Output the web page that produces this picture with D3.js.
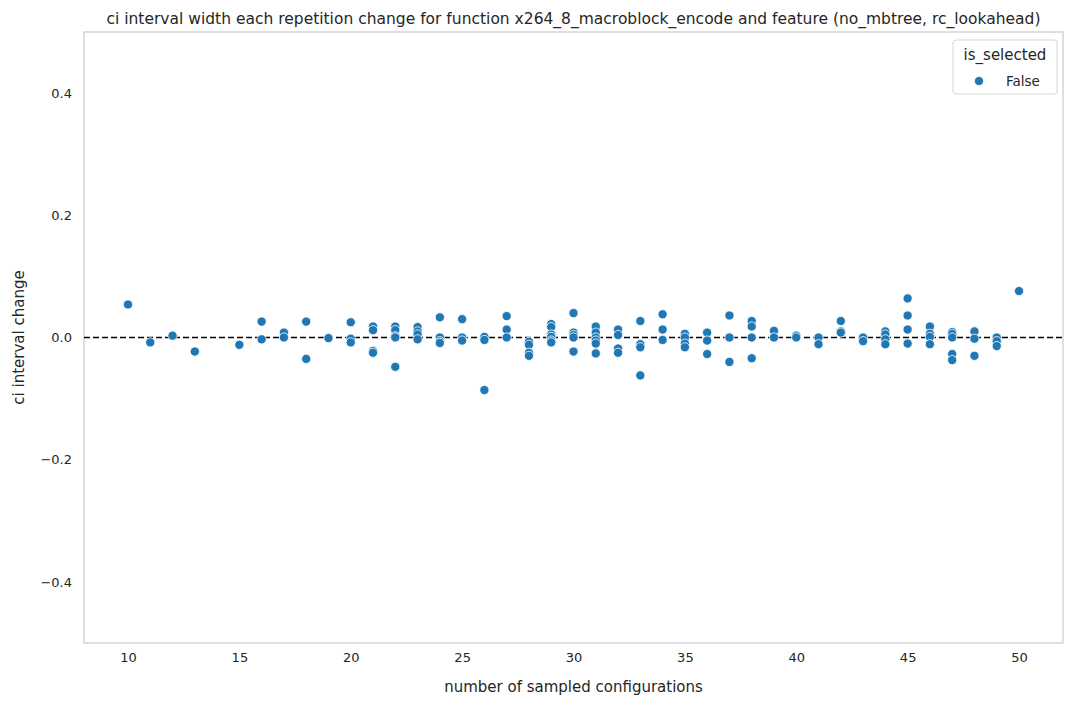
<!DOCTYPE html>
<html><head><meta charset="utf-8">
<script src="https://cdn.jsdelivr.net/npm/d3@7"></script>
<style>body{margin:0;background:#fff;font-family:"DejaVu Sans",sans-serif;}</style>
</head><body>
<script>
// sampled configuration counts and ci interval changes
var configs = [10,11,12,13,15,16,16,17,17,18,18,19,20,20,20,
  21,21,21,21,22,22,22,22,22,23,23,23,23,24,24,24,24,25,25,25,
  26,26,26,27,27,27,28,28,28,28,29,29,29,29,29,29,30,30,30,30,30,
  31,31,31,31,31,31,32,32,32,32,33,33,33,33,34,34,34,35,35,35,35,
  36,36,36,37,37,37,38,38,38,38,39,39,40,40,41,41,42,42,42,43,43,
  44,44,44,44,45,45,45,45,46,46,46,46,47,47,47,47,47,48,48,48,49,49,49,50];
var changes = [0.054,-0.008,0.003,-0.023,-0.012,0.026,-0.003,0.008,0.0,0.026,-0.035,-0.001,0.025,-0.002,-0.008,
  0.018,0.012,-0.022,-0.025,0.018,0.012,0.002,0.0,-0.048,0.017,0.01,0.005,-0.003,0.033,0.0,-0.006,-0.009,0.03,0.0,-0.005,
  0.001,-0.004,-0.086,0.035,0.013,0.0,-0.007,-0.012,-0.025,-0.03,0.022,0.017,0.005,0.001,-0.005,-0.008,0.04,0.008,0.004,0.0,-0.023,
  0.018,0.008,0.0,-0.005,-0.01,-0.026,0.013,0.004,-0.018,-0.025,0.027,-0.011,-0.016,-0.062,0.038,0.013,-0.004,0.006,0.0,-0.01,-0.016,
  0.008,-0.005,-0.027,0.036,0.0,-0.04,0.027,0.018,0.0,-0.034,0.011,0.0,0.003,0.0,0.0,-0.011,0.027,0.01,0.008,0.0,-0.006,
  0.01,0.005,-0.003,-0.011,0.064,0.036,0.013,-0.01,0.018,0.006,0.001,-0.011,0.009,0.006,0.0,-0.027,-0.037,0.01,-0.002,-0.03,0.0,-0.006,-0.014,0.076];
var xTicks = [10,15,20,25,30,35,40,45,50];
var yTicks = [-0.4,-0.2,0.0,0.2,0.4];

var W = 1084, H = 706, m = {l:84, r:21, t:32, b:63};
var svg = d3.select("body").append("svg").attr("width", W).attr("height", H);
var x = d3.scaleLinear().domain([8.025, 51.975]).range([m.l, W - m.r]);
var y = d3.scaleLinear().domain([-0.5, 0.5]).range([H - m.b, m.t]);

function fmt(v){ var s = d3.format(".1f")(Math.abs(v)); return v < 0 ? "\u2212" + s : s; }

var gx = svg.append("g").attr("transform", "translate(0," + (H - m.b) + ")")
  .call(d3.axisBottom(x).tickValues(xTicks).tickSize(0).tickPadding(10));
var gy = svg.append("g").attr("transform", "translate(" + m.l + ",0)")
  .call(d3.axisLeft(y).tickValues(yTicks).tickFormat(fmt).tickSize(0).tickPadding(12));
[gx, gy].forEach(function(g){
  g.select(".domain").remove();
  g.selectAll("text").attr("font-size", 13).attr("fill", "#262626").attr("font-family", "DejaVu Sans");
});
svg.append("rect").attr("x", m.l).attr("y", m.t).attr("width", W - m.l - m.r).attr("height", H - m.t - m.b)
  .attr("fill", "none").attr("stroke", "#cccccc").attr("stroke-width", 1.25);

svg.append("line").attr("x1", m.l).attr("x2", W - m.r).attr("y1", y(0)).attr("y2", y(0))
  .attr("stroke", "#000").attr("stroke-width", 1.6).attr("stroke-dasharray", "6,3");

svg.append("g").selectAll("circle").data(configs).enter().append("circle")
  .attr("cx", function(d){ return x(d); })
  .attr("cy", function(d, i){ return y(changes[i]); })
  .attr("r", 4.6).attr("fill", "#1f77b4").attr("stroke", "#fff").attr("stroke-width", 0.8);

svg.append("text").attr("x", (m.l + W - m.r) / 2).attr("y", 24).attr("text-anchor", "middle")
  .attr("font-size", 15.5).attr("fill", "#262626")
  .text("ci interval width each repetition change for function x264_8_macroblock_encode and feature (no_mbtree, rc_lookahead)");
svg.append("text").attr("x", (m.l + W - m.r) / 2).attr("y", 692).attr("text-anchor", "middle")
  .attr("font-size", 15).attr("fill", "#262626").text("number of sampled configurations");
svg.append("text").attr("transform", "translate(24," + ((m.t + H - m.b) / 2) + ") rotate(-90)")
  .attr("text-anchor", "middle").attr("font-size", 15).attr("fill", "#262626").text("ci interval change");

// legend
var lg = svg.append("g").attr("transform", "translate(953,40)");
lg.append("rect").attr("width", 104).attr("height", 54).attr("rx", 3)
  .attr("fill", "#fff").attr("fill-opacity", 0.8).attr("stroke", "#d6d6d6");
lg.append("text").attr("x", 52).attr("y", 20).attr("text-anchor", "middle").attr("font-size", 15)
  .attr("fill", "#262626").text("is_selected");
lg.append("circle").attr("cx", 26).attr("cy", 41).attr("r", 4.6).attr("fill", "#1f77b4").attr("stroke", "#fff").attr("stroke-width", 0.8);
lg.append("text").attr("x", 53).attr("y", 46).attr("font-size", 13.5).attr("fill", "#262626").text("False");
</script>
</body></html>
